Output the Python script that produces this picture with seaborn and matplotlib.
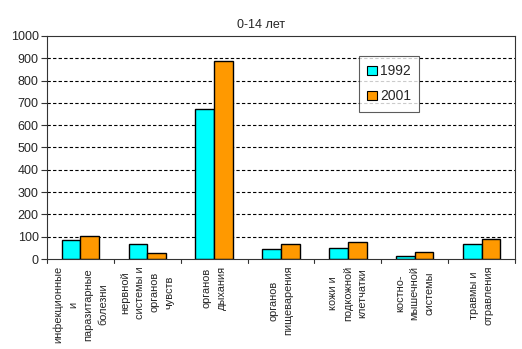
import matplotlib
matplotlib.use("Agg")
import matplotlib.pyplot as plt
import seaborn as sns
import pandas as pd
from matplotlib.patches import Patch

categories = [
    "инфекционные\nи\nпаразитарные\nболезни",
    "нервной\nсистемы и\nорганов\nчувств",
    "органов\nдыхания",
    "органов\nпищеварения",
    "кожи и\nподкожной\nклетчатки",
    "костно-\nмышечной\nсистемы",
    "травмы и\nотравления",
]
values_1992 = [84, 66, 673, 43, 48, 12, 66]
values_2001 = [101, 25, 886, 66, 75, 30, 88]
series_names = ["1992", "2001"]
colors = ["#00FFFF", "#FF9900"]
title = "0-14 лет"

df = pd.DataFrame({
    "cat": categories * 2,
    "val": values_1992 + values_2001,
    "year": [series_names[0]] * len(categories) + [series_names[1]] * len(categories),
})

sns.set_style("white")
plt.rcParams["font.family"] = ["Liberation Sans", "DejaVu Sans"]

fig = plt.figure(figsize=(5.22, 3.49), dpi=100)
ax = fig.add_axes([47 / 522, 1 - 259 / 349, (515 - 47) / 522, (259 - 36) / 349])

sns.barplot(data=df, x="cat", y="val", hue="year", palette=colors, width=0.56,
            gap=0, edgecolor="black", linewidth=1.0, ax=ax, legend=False,
            saturation=1)

ax.set_ylim(0, 1000)
ax.set_xlim(-0.5, len(categories) - 0.5)
ax.set_yticks(range(0, 1001, 100))
ax.set_yticklabels([str(v) for v in range(0, 1001, 100)], fontsize=9)
ax.set_xlabel("")
ax.set_ylabel("")

for y in range(100, 1000, 100):
    ax.axhline(y, color="black", linestyle=(0, (3, 2)), linewidth=0.8, zorder=0)

ax.set_xticks(range(len(categories)))
ax.set_xticklabels(categories, rotation=90, fontsize=7.9, va="top", ha="center",
                   multialignment="center", linespacing=1.6)
ax.tick_params(axis="x", length=0, pad=5)
ax.tick_params(axis="y", length=4, width=0.8, color="#333333", left=True, pad=2)

# category boundary ticks
for k in range(len(categories) + 1):
    ax.plot([k - 0.5, k - 0.5], [0, -0.018], transform=ax.get_xaxis_transform(),
            color="#333333", linewidth=0.8, clip_on=False)

for s in ax.spines.values():
    s.set_visible(True)
    s.set_color("#333333")
    s.set_linewidth(0.8)

fig.text(0.5, 1 - 25 / 349, title, ha="center", va="center", fontsize=9)

handles = [Patch(facecolor=c, edgecolor="black", linewidth=0.8) for c in colors]
leg = fig.legend(handles, series_names, loc="upper left",
                 bbox_to_anchor=(359 / 522, 1 - 56 / 349), fontsize=10,
                 frameon=True, fancybox=False, edgecolor="#333333",
                 handlelength=0.7, handleheight=0.7, handletextpad=0.2,
                 labelspacing=0.8, borderpad=0.6, borderaxespad=0)
leg.get_frame().set_linewidth(0.8)

fig.savefig("out.png", dpi=100, facecolor="white")
